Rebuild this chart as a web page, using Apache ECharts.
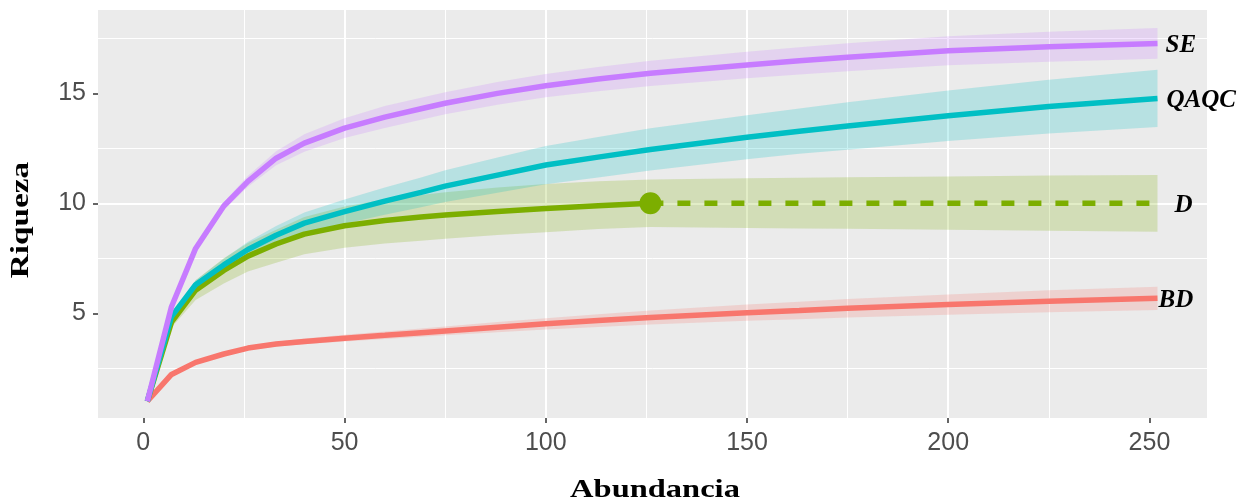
<!DOCTYPE html>
<html>
<head>
<meta charset="utf-8">
<script src="https://cdn.jsdelivr.net/npm/echarts@6/dist/echarts.min.js"></script>
<style>
html, body { margin: 0; padding: 0; background: #fff; }
#main { width: 1243px; height: 504px; }
</style>
</head>
<body>
<div id="main"></div>
<script>
// sample sizes (abundance) where the curves were read
var abund = [1, 7, 13, 20, 26, 33, 40, 50, 60, 69, 75, 88, 100, 113, 126, 150, 163, 175, 200, 225, 252];

var seMean = [1, 5.3, 7.95, 9.88, 11.0, 12.05, 12.74, 13.42, 13.92, 14.3, 14.55, 15.0, 15.35, 15.65, 15.91, 16.29, 16.48, 16.64, 16.94, 17.12, 17.27];
var seLow  = [1, 5.2, 7.8, 9.7, 10.75, 11.73, 12.34, 12.97, 13.42, 13.8, 14.05, 14.48, 14.82, 15.1, 15.34, 15.69, 15.86, 16.0, 16.28, 16.44, 16.57];
var seHigh = [1, 5.4, 8.1, 10.06, 11.25, 12.37, 13.14, 13.87, 14.42, 14.8, 15.05, 15.52, 15.88, 16.2, 16.48, 16.89, 17.1, 17.28, 17.6, 17.8, 17.97];

var qaqcMean = [1, 4.85, 6.3, 7.2, 7.9, 8.55, 9.1, 9.62, 10.1, 10.5, 10.78, 11.28, 11.74, 12.1, 12.45, 13.0, 13.28, 13.52, 13.98, 14.4, 14.77];
var qaqcLow  = [1, 4.75, 6.1, 6.92, 7.55, 8.13, 8.62, 9.07, 9.48, 9.82, 10.06, 10.48, 10.87, 11.18, 11.49, 12.0, 12.25, 12.44, 12.83, 13.18, 13.47];
var qaqcHigh = [1, 4.95, 6.5, 7.48, 8.25, 8.97, 9.58, 10.17, 10.72, 11.18, 11.5, 12.08, 12.61, 13.02, 13.41, 14.0, 14.31, 14.6, 15.13, 15.62, 16.07];

var dMean = [1, 4.6, 6.05, 6.95, 7.6, 8.15, 8.6, 8.98, 9.22, 9.38, 9.47, 9.63, 9.76, 9.89, 10.0];
var dExtrap = [10, 10, 10, 10, 10, 10, 10];
var dLow  = [1, 4.35, 5.6, 6.35, 6.9, 7.3, 7.68, 7.98, 8.17, 8.3, 8.39, 8.56, 8.69, 8.83, 8.92, 8.88, 8.86, 8.84, 8.8, 8.75, 8.71];
var dHigh = [1, 4.85, 6.5, 7.5, 8.2, 8.8, 9.38, 9.86, 10.17, 10.38, 10.5, 10.72, 10.88, 11.0, 11.08, 11.14, 11.16, 11.19, 11.22, 11.26, 11.29];
var dObserved = [126, 10];

var bdMean = [1, 2.22, 2.77, 3.15, 3.42, 3.6, 3.72, 3.87, 4.0, 4.12, 4.2, 4.37, 4.52, 4.67, 4.81, 5.03, 5.13, 5.23, 5.4, 5.55, 5.68];
var bdLow  = [1, 2.19, 2.72, 3.08, 3.33, 3.49, 3.59, 3.72, 3.83, 3.93, 4.0, 4.14, 4.26, 4.38, 4.49, 4.66, 4.73, 4.81, 4.94, 5.05, 5.15];
var bdHigh = [1, 2.25, 2.82, 3.22, 3.51, 3.71, 3.85, 4.02, 4.17, 4.31, 4.4, 4.6, 4.78, 4.96, 5.13, 5.4, 5.53, 5.65, 5.86, 6.05, 6.21];

var xTicks = [0, 50, 100, 150, 200, 250];
var yTicks = [5, 10, 15];

var colors = { BD: '#F8766D', D: '#7CAE00', QAQC: '#00BFC4', SE: '#C77CFF' };

function pairs(xs, ys) {
	return ys.map(function (y, i) { return [xs[i], y]; });
}

// confidence ribbon drawn as one polygon through the axis scales
function band(name, low, high, color) {
	return {
		name: name + 'band',
		type: 'custom',
		data: abund.map(function (x, i) { return [x, low[i], high[i]]; }),
		encode: { x: 0, y: [1, 2] },
		clip: true,
		silent: true,
		z: 1,
		renderItem: function (params, api) {
			if (params.dataIndex !== 0) return;
			var pts = [];
			for (var i = 0; i < abund.length; i++) pts.push(api.coord([abund[i], high[i]]));
			for (var j = abund.length - 1; j >= 0; j--) pts.push(api.coord([abund[j], low[j]]));
			return {
				type: 'polygon',
				shape: { points: pts },
				style: { fill: color, opacity: 0.22 }
			};
		}
	};
}

function curve(name, xs, ys, color, labelDist, dashed) {
	var s = {
		name: name,
		type: 'line',
		data: pairs(xs, ys),
		symbol: 'none',
		lineStyle: { color: color, width: 5.5, type: dashed ? [13, 14] : 'solid' },
		z: 3
	};
	if (labelDist !== null) {
		s.endLabel = {
			show: true,
			formatter: name,
			distance: labelDist,
			offset: [0, 2],
			color: '#000',
			fontFamily: 'Liberation Serif',
			fontStyle: 'italic',
			fontWeight: 'bold',
			fontSize: 25
		};
	}
	return s;
}

var series = [];
series.push(band('BD', bdLow, bdHigh, colors.BD));
series.push(band('D', dLow, dHigh, colors.D));
series.push(band('QAQC', qaqcLow, qaqcHigh, colors.QAQC));
series.push(band('SE', seLow, seHigh, colors.SE));

series.push(curve('BD', abund, bdMean, colors.BD, 1, false));
series.push(curve('Dobs', abund.slice(0, dMean.length), dMean, colors.D, null, false));
series.push(curve('D', abund.slice(dMean.length - 1), dExtrap, colors.D, 17, true));
series.push(curve('QAQC', abund, qaqcMean, colors.QAQC, 9, false));
series.push(curve('SE', abund, seMean, colors.SE, 8, false));
series.push({
	name: 'obs',
	type: 'scatter',
	data: [dObserved],
	symbolSize: 22,
	itemStyle: { color: colors.D, opacity: 1 },
	z: 4
});

var dom = document.getElementById('main');
var myChart = echarts.init(dom, null, { renderer: 'canvas' });

var tickLabel = { color: '#4D4D4D', fontFamily: 'Liberation Sans', fontSize: 25 };
var majorGrid = { show: true, showMinLine: false, showMaxLine: false, lineStyle: { color: '#FFFFFF', width: 2 } };
var minorGrid = { show: true, lineStyle: { color: '#FFFFFF', width: 1 } };

var option = {
	animation: false,
	backgroundColor: '#FFFFFF',
	grid: {
		left: 98, right: 36, top: 10, bottom: 86,
		show: true, backgroundColor: '#EBEBEB', borderWidth: 0
	},
	xAxis: {
		type: 'value',
		min: -11.26,
		max: 264.3,
		axisLine: { show: false, onZero: false },
		axisTick: { show: true, length: 5, customValues: xTicks, lineStyle: { color: '#333333', width: 1.5 } },
		axisLabel: Object.assign({ margin: 13, customValues: xTicks }, tickLabel),
		splitLine: majorGrid,
		minorTick: { show: false, splitNumber: 2 },
		minorSplitLine: minorGrid
	},
	yAxis: {
		type: 'value',
		min: 0.24,
		max: 18.79,
		splitNumber: 4,
		axisLine: { show: false, onZero: false },
		axisTick: { show: true, length: 5, customValues: yTicks, lineStyle: { color: '#333333', width: 1.5 } },
		axisLabel: Object.assign({ margin: 12, customValues: yTicks }, tickLabel),
		splitLine: majorGrid,
		minorTick: { show: false, splitNumber: 2 },
		minorSplitLine: minorGrid
	},
	graphic: [{
		type: 'text',
		x: 655,
		y: 491,
		scaleX: 1.3,
		style: {
			text: 'Abundancia',
			font: 'bold 25px "Liberation Serif"',
			fill: '#000',
			textAlign: 'center',
			textVerticalAlign: 'middle'
		}
	}, {
		type: 'text',
		x: 22,
		y: 220,
		rotation: Math.PI / 2,
		scaleX: 1.33,
		style: {
			text: 'Riqueza',
			font: 'bold 25px "Liberation Serif"',
			fill: '#000',
			textAlign: 'center',
			textVerticalAlign: 'middle'
		}
	}],
	series: series
};

myChart.setOption(option);
</script>
</body>
</html>
